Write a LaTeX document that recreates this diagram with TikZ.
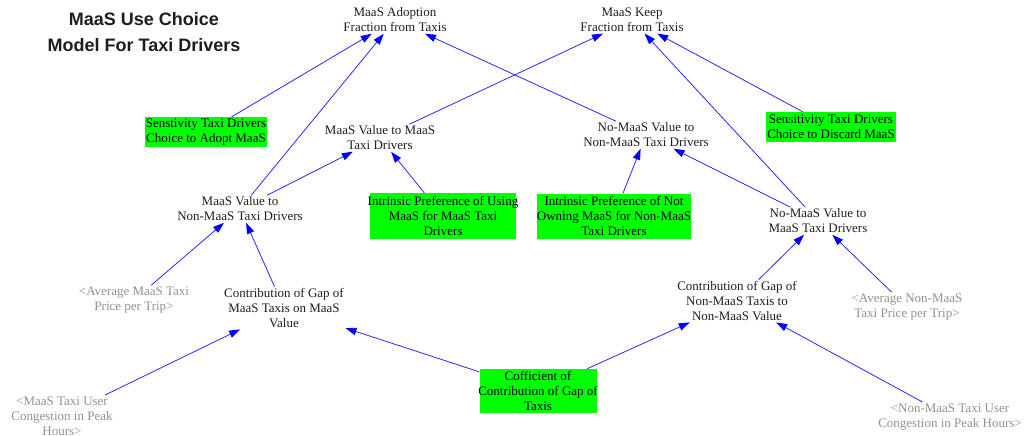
\documentclass[tikz,border=0pt]{standalone}
\usepackage{fontspec}
\setmainfont{Liberation Serif}
\newfontfamily\headfont{Liberation Sans}
\usetikzlibrary{arrows.meta}
\definecolor{lime}{RGB}{0,255,0}
\definecolor{linkblue}{RGB}{40,40,255}
\definecolor{shadowgray}{RGB}{145,145,145}
\definecolor{ink}{RGB}{30,30,30}
\tikzset{
  var/.style={align=center, inner sep=1.5pt, text=ink, font=\fontsize{13}{15}\selectfont},
  shadowvar/.style={var, text=shadowgray},
  gbox/.style={var, fill=lime, inner sep=0pt, text=black},
  infl/.style={draw=linkblue, line width=0.8pt,
    -{Triangle[length=11pt,width=7.5pt,color=blue]}},
}
\begin{document}
\begin{tikzpicture}[x=1pt,y=-1pt]
\useasboundingbox (0,0) rectangle (1025,436);

% title
\node[align=center, font=\headfont\bfseries\fontsize{18}{26}\selectfont, text=ink] (title) at (144,32)
  {MaaS Use Choice\\Model For Taxi Drivers};

% variables
\node[var] (adopt) at (395,20) {MaaS Adoption\\Fraction from Taxis};
\node[var] (keep) at (632,20) {MaaS Keep\\Fraction from Taxis};
\node[gbox, minimum width=122pt, minimum height=30pt] (sensA) at (206,132)
  {Senstivity Taxi Drivers\\Choice to Adopt MaaS};
\node[var] (vMM) at (380,138) {MaaS Value to MaaS\\Taxi Drivers};
\node[var] (nNM) at (646,135) {No-MaaS Value to\\Non-MaaS Taxi Drivers};
\node[gbox, minimum width=130pt, minimum height=30pt] (sensD) at (831,127)
  {Sensitivity Taxi Drivers\\Choice to Discard MaaS};
\node[var] (vNM) at (240,209) {MaaS Value to\\Non-MaaS Taxi Drivers};
\node[gbox, minimum width=146pt, minimum height=46pt] (iUse) at (443,216)
  {\makebox[146pt]{Intrinsic Preference of Using}\\MaaS for MaaS Taxi\\Drivers};
\node[gbox, minimum width=154pt, minimum height=45pt] (iNot) at (614,216)
  {Intrinsic Preference of Not\\Owning MaaS for Non-MaaS\\Taxi Drivers};
\node[var] (nMM) at (818,221) {No-MaaS Value to\\MaaS Taxi Drivers};
\node[shadowvar] (avgM) at (134,300) {<Average MaaS Taxi\\Price per Trip>};
\node[var] (cM) at (284,308) {Contribution of Gap of\\MaaS Taxis on MaaS\\Value};
\node[var] (cNM) at (737,301) {Contribution of Gap of\\Non-MaaS Taxis to\\Non-MaaS Value};
\node[shadowvar] (avgNM) at (907,307) {<Average Non-MaaS\\Taxi Price per Trip>};
\node[shadowvar] (congM) at (62,416) {<MaaS Taxi User\\Congestion in Peak\\Hours>};
\node[gbox, minimum width=117pt, minimum height=44pt] (coef) at (538,391)
  {Cofficient of\\\makebox[117pt]{Contribution of Gap of}\\Taxis};
\node[shadowvar] (congNM) at (950,417) {<Non-MaaS Taxi User\\Congestion in Peak Hours>};

% influences
\draw[infl] (sensA) -- (adopt);
\draw[infl] (vNM) -- (adopt);
\draw[infl] (nNM) -- (adopt);
\draw[infl] (vMM) -- (keep);
\draw[infl] (nMM) -- (keep);
\draw[infl] (sensD) -- (keep);
\draw[infl] (vNM) -- (vMM);
\draw[infl] (iUse) -- (vMM);
\draw[infl] (iNot) -- (nNM);
\draw[infl] (nMM) -- (nNM);
\draw[infl] (avgM) -- (vNM);
\draw[infl] (cM) -- (vNM);
\draw[infl] (congM) -- (cM);
\draw[infl] (coef) -- (cM);
\draw[infl] (coef) -- (cNM);
\draw[infl] (congNM) -- (cNM);
\draw[infl] (cNM) -- (nMM);
\draw[infl] (avgNM) -- (nMM);
\end{tikzpicture}
\end{document}
